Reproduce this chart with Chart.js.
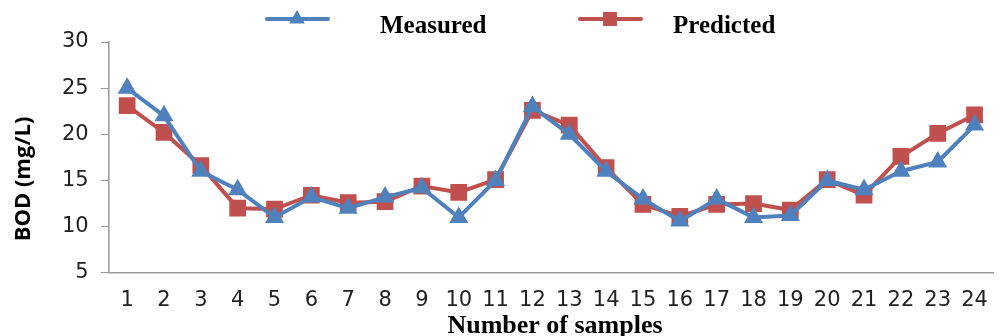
<!DOCTYPE html>
<html>
<head>
<meta charset="utf-8">
<script src="https://cdn.jsdelivr.net/npm/chart.js@4.4.0/dist/chart.umd.min.js"></script>
<style>
  html, body { margin: 0; padding: 0; background: #fff; }
  #wrap { width: 1006px; height: 336px; }
</style>
</head>
<body>
<div id="wrap"><canvas id="grafica"></canvas></div>
<script>
// datos de la grafica
var muestras = ['1','2','3','4','5','6','7','8','9','10','11','12','13','14','15','16','17','18','19','20','21','22','23','24'];
var medido = [25, 22, 16, 14, 11, 13.2, 12, 13.2, 14.2, 11, 15, 23, 20, 16, 13, 10.6, 13, 11, 11.2, 15, 14, 16, 17, 21];
var predicho = [23.1, 20.2, 16.6, 12, 11.9, 13.4, 12.6, 12.7, 14.4, 13.7, 15.1, 22.6, 21, 16.4, 12.4, 11.1, 12.4, 12.5, 11.8, 15.1, 13.4, 17.6, 20.1, 22.1];
var yTicks = [5, 10, 15, 20, 25, 30];
var tituloX = 'Number of samples';
var tituloY = 'BOD (mg/L)';

var azul = '#4F81BD';
var rojo = '#C0504D';
var serif = '"Liberation Serif", "Times New Roman", serif';

// leyenda y titulos dibujados a mano
var extras = {
  id: 'extras',
  afterDraw: function(chart) {
    var ctx = chart.ctx;
    var items = [
      { x: 267, tx: 380, r: 5, ds: chart.data.datasets[0] },
      { x: 580, tx: 673, r: 7, ds: chart.data.datasets[1] }
    ];
    var y = 19;
    ctx.save();
    items.forEach(function(it) {
      ctx.strokeStyle = it.ds.borderColor;
      ctx.fillStyle = it.ds.borderColor;
      ctx.lineWidth = 4;
      ctx.lineCap = 'round';
      ctx.beginPath();
      ctx.moveTo(it.x, y);
      ctx.lineTo(it.x + 61, y);
      ctx.stroke();
      Chart.helpers.drawPoint(ctx, {
        pointStyle: it.ds.pointStyle,
        radius: it.r,
        borderWidth: 1
      }, it.x + 30, y);
      ctx.fillStyle = '#000';
      ctx.font = 'bold 25px ' + serif;
      ctx.textBaseline = 'alphabetic';
      ctx.textAlign = 'left';
      ctx.fillText(it.ds.label, it.tx, 33);
    });

    // titulo eje x
    ctx.fillStyle = '#000';
    ctx.font = 'bold 26px ' + serif;
    ctx.textAlign = 'center';
    ctx.textBaseline = 'alphabetic';
    ctx.fillText(tituloX, 555, 333);

    // titulo eje y
    ctx.translate(24, 179);
    ctx.rotate(-Math.PI / 2);
    ctx.font = 'bold 22px "Open Sans", "Noto Sans", sans-serif';
    ctx.textBaseline = 'middle';
    ctx.fillText(tituloY, 0, 0);
    ctx.restore();
  }
};

var datosGrafica = {
  labels: muestras,
  datasets: [{
    label: 'Measured',
    data: medido,
    borderColor: azul,
    backgroundColor: azul,
    borderWidth: 4,
    pointStyle: 'triangle',
    pointRadius: 7,
    pointHoverRadius: 7,
    tension: 0
  }, {
    label: 'Predicted',
    data: predicho,
    borderColor: rojo,
    backgroundColor: rojo,
    borderWidth: 4,
    pointStyle: 'rect',
    pointRadius: 9,
    pointHoverRadius: 9,
    tension: 0
  }]
};

var grafica = new Chart(document.getElementById('grafica'), {
  type: 'line',
  data: datosGrafica,
  plugins: [extras],
  options: {
    responsive: true,
    maintainAspectRatio: false,
    animation: false,
    events: [],
    layout: { padding: { top: 42, right: 0, left: 50, bottom: 8 } },
    plugins: {
      legend: { display: false },
      tooltip: { enabled: false }
    },
    scales: {
      x: {
        offset: true,
        grid: { display: false, drawTicks: false },
        border: { display: true, color: '#999', width: 1.5 },
        ticks: {
          padding: 15,
          color: '#222',
          font: { family: '"DejaVu Sans", sans-serif', size: 21 },
          maxRotation: 0,
          autoSkip: false
        }
      },
      y: {
        min: 5,
        max: 30,
        afterBuildTicks: function(axis) {
          axis.ticks = yTicks.map(function(v) { return { value: v }; });
        },
        grid: { display: true, drawOnChartArea: false, drawTicks: true, tickLength: 8, color: '#999' },
        border: { display: true, color: '#999', width: 1.5 },
        ticks: {
          padding: 12,
          color: '#222',
          font: { family: '"DejaVu Sans", sans-serif', size: 21 }
        }
      }
    }
  }
});
</script>
</body>
</html>
